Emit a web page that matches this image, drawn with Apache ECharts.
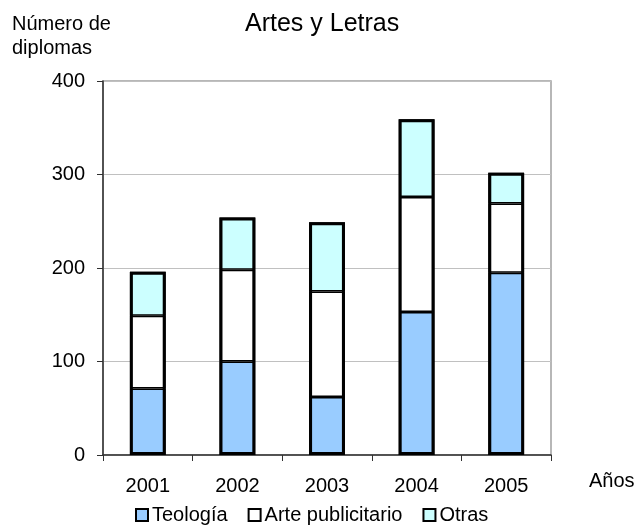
<!DOCTYPE html>
<html>
<head>
<meta charset="utf-8">
<script src="https://cdn.jsdelivr.net/npm/echarts@6/dist/echarts.min.js"></script>
<style>
html,body{margin:0;padding:0;background:#fff;}
#main{width:636px;height:525px;}
</style>
</head>
<body>
<div id="main"></div>
<script>
var years = ['2001','2002','2003','2004','2005'];
var teologia = [71, 100, 62, 153, 195];
var artePublicitario = [78, 98, 113, 123, 74];
var otras = [47, 56, 74, 83, 33];
var yTicks = [0, 100, 200, 300, 400];

var fontName = 'Liberation Sans';

// total per year, only used for the outer outline of each column
var totals = years.map(function(y, i){
    return teologia[i] + artePublicitario[i] + otras[i];
});

function barSerie(name, data, color){
    return {
        name: name,
        type: 'bar',
        stack: 'total',
        barWidth: '40%',
        barGap: '-100%',
        data: data,
        itemStyle: {color: color, borderColor: '#000', borderWidth: 1.5},
        emphasis: {disabled: true}
    };
}

var myChart = echarts.init(document.getElementById('main'));
var option = {
    animation: false,
    textStyle: {fontFamily: fontName},
    title: [
        {
            text: 'Artes y Letras',
            left: 240, top: 7,
            textStyle: {fontFamily: fontName, fontSize: 25, fontWeight: 'normal', color: '#000'}
        },
        {
            text: 'Número de\ndiplomas',
            left: 7, top: 7,
            textStyle: {fontFamily: fontName, fontSize: 20, fontWeight: 'normal', color: '#000', lineHeight: 24}
        }
    ],
    legend: {
        data: ['Teología', 'Arte publicitario', 'Otras'],
        left: 130, top: 500,
        icon: 'rect',
        itemWidth: 12, itemHeight: 12,
        itemGap: 20,
        itemStyle: {borderColor: '#000', borderWidth: 2},
        textStyle: {fontFamily: fontName, fontSize: 20, color: '#000', padding: [0, 0, 0, -1]}
    },
    grid: {
        left: 103, right: 85, top: 81, bottom: 70,
        show: true, borderColor: '#a0a0a0', borderWidth: 1.5
    },
    xAxis: {
        type: 'category',
        data: years,
        axisLine: {lineStyle: {color: '#303030', width: 1.5}},
        axisTick: {show: true, length: 6, lineStyle: {color: '#303030'}},
        axisLabel: {fontFamily: fontName, fontSize: 20, color: '#000', margin: 21},
        splitLine: {show: false}
    },
    yAxis: {
        type: 'value',
        min: yTicks[0], max: yTicks[yTicks.length - 1], interval: 100,
        axisLine: {show: true, lineStyle: {color: '#303030', width: 1.5}},
        axisTick: {show: true, length: 6, lineStyle: {color: '#303030'}},
        axisLabel: {fontFamily: fontName, fontSize: 20, color: '#000', margin: 18},
        splitLine: {lineStyle: {color: '#c0c0c0', width: 1}}
    },
    graphic: [
        {
            type: 'text', left: 589, top: 471,
            style: {text: 'Años', fontFamily: fontName, fontSize: 20, fill: '#000'}
        }
    ],
    series: [
        barSerie('Teología', teologia, '#99ccff'),
        barSerie('Arte publicitario', artePublicitario, '#ffffff'),
        barSerie('Otras', otras, '#ccffff'),
        {
            name: 'contorno',
            type: 'bar',
            barWidth: '40%',
            barGap: '-100%',
            data: totals,
            z: 3,
            itemStyle: {color: 'rgba(0,0,0,0)', borderColor: '#000', borderWidth: 3},
            emphasis: {disabled: true},
            silent: true
        }
    ]
};
myChart.setOption(option);
</script>
</body>
</html>
